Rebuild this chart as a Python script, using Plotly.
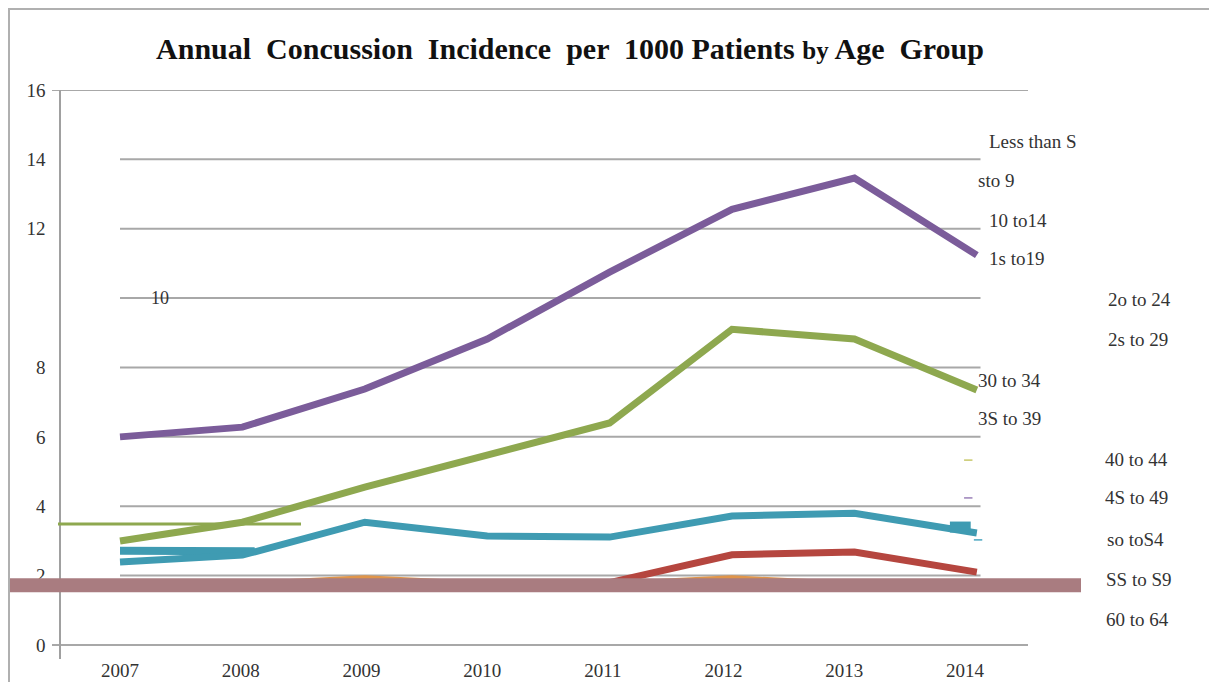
import plotly.graph_objects as go

years = [2007, 2008, 2009, 2010, 2011, 2012, 2013, 2014]

purple = [6.0, 6.28, 7.38, 8.82, 10.75, 12.56, 13.46, 11.24]
green = [3.0, 3.54, 4.55, 5.5, 6.4, 9.1, 8.82, 7.35]
teal = [2.39, 2.59, 3.54, 3.14, 3.11, 3.72, 3.8, 3.23]
red = [1.8, 1.8, 1.8, 1.8, 1.8, 2.6, 2.68, 2.1]
orange = [1.78, 1.78, 1.95, 1.78, 1.78, 1.95, 1.78, 1.78]

teal_stub_x = [2007, 2008.1]
teal_stub_y = [2.72, 2.7]
teal_block_x = [2013.78, 2013.95]
teal_block_y = [3.4, 3.4]

dash_x = [2013.93, 2013.93, 2014.01]
dash_y = [5.33, 4.24, 3.03]
dash_colors = ['#c8c86a', '#9a80b8', '#4aa6c0']

band_level = 1.72
green_rule_level = 3.49

ytick_vals = [0, 2, 4, 6, 8, 12, 14, 16]
grid_vals = [2, 4, 6, 8, 10, 12, 14]

labels = ['Less than S', 'sto 9', '10 to14', '1s to19', '2o to 24', '2s to 29',
          '30 to 34', '3S to 39', '40 to 44', '4S to 49', 'so toS4', 'SS to S9', '60 to 64']
label_px = [987, 976, 987, 987, 1106, 1106, 976, 976, 1103, 1103, 1105, 1104, 1104]
label_py = [141, 181, 220, 259, 299, 339, 380, 419, 459, 498, 539, 579, 619]

# page has an 8px body margin; screen pixel positions below are converted
OFF = 8
W, H = 1201, 674
L, R, T, B = 61 - OFF, 1028 - OFF, 90 - OFF, 659 - OFF


def px(x):
    return (x - OFF - L) / (R - L)


def py(y):
    return (B - (y - OFF)) / (B - T)


serif = 'Liberation Serif, Times New Roman, serif'
fig = go.Figure()

fig.add_trace(go.Scatter(x=years, y=orange, mode='lines', line=dict(color='#e0954a', width=4), showlegend=False))
fig.add_trace(go.Scatter(x=years, y=red, mode='lines', line=dict(color='#b5463f', width=7), showlegend=False))
fig.add_trace(go.Scatter(x=teal_stub_x, y=teal_stub_y, mode='lines', line=dict(color='#3f9bb2', width=8), showlegend=False))
fig.add_trace(go.Scatter(x=years, y=teal, mode='lines', line=dict(color='#3f9bb2', width=7), showlegend=False))
fig.add_trace(go.Scatter(x=teal_block_x, y=teal_block_y, mode='lines', line=dict(color='#3f9bb2', width=11), showlegend=False, cliponaxis=False))
fig.add_trace(go.Scatter(x=years, y=green, mode='lines', line=dict(color='#8ea84f', width=7), showlegend=False))
fig.add_trace(go.Scatter(x=years, y=purple, mode='lines', line=dict(color='#7b5c9a', width=7), showlegend=False))
fig.add_trace(go.Scatter(x=dash_x, y=dash_y, mode='markers', showlegend=False, cliponaxis=False,
                         marker=dict(symbol='line-ew', size=6, line=dict(width=1.5, color=dash_colors))))
fig.add_trace(go.Scatter(x=[], y=[], xaxis='x2', showlegend=False))

shapes = []
for g in grid_vals:
    shapes.append(dict(type='line', xref='x', yref='y', x0=2007, x1=2014.03, y0=g, y1=g,
                       line=dict(color='#a8a8a8', width=2), layer='below'))
for g in [0, 16]:
    shapes.append(dict(type='line', xref='paper', yref='y', x0=px(52), x1=1, y0=g, y1=g,
                       line=dict(color='#a8a8a8', width=2), layer='below'))
shapes.append(dict(type='line', xref='paper', yref='y', x0=px(8), x1=px(1081), y0=band_level, y1=band_level,
                   line=dict(color='#a97c80', width=14), layer='above'))
shapes.append(dict(type='line', xref='paper', yref='y', x0=px(58), x1=px(301), y0=green_rule_level, y1=green_rule_level,
                   line=dict(color='#8ea84f', width=3), layer='above'))
# frame
shapes.append(dict(type='line', xref='paper', yref='paper', x0=px(8), x1=px(1217), y0=py(9), y1=py(9),
                   line=dict(color='#b0b0b0', width=2)))
shapes.append(dict(type='line', xref='paper', yref='paper', x0=px(9), x1=px(9), y0=py(9), y1=py(690),
                   line=dict(color='#b0b0b0', width=2)))

annotations = [dict(text=t, xref='paper', yref='paper', x=px(a), y=py(b), xanchor='left', yanchor='middle',
                    showarrow=False, font=dict(family=serif, size=19, color='#333'))
               for t, a, b in zip(labels, label_px, label_py)]
annotations.append(dict(text='10', xref='paper', yref='y', x=px(160), y=10, xanchor='center', yanchor='middle',
                        showarrow=False, font=dict(family=serif, size=18, color='#333')))

fig.update_layout(
    width=W, height=H,
    margin=dict(l=L, r=W - R, t=T, b=H - B, autoexpand=False),
    paper_bgcolor='white', plot_bgcolor='white',
    title=dict(text='<b>Annual  Concussion  Incidence  per  1000 Patients <span style="font-size:25px">by</span> Age  Group</b>',
               x=(570 - OFF) / W, xref='container', xanchor='center', y=1 - (48 - OFF) / H, yanchor='middle',
               font=dict(family=serif, size=30, color='#111')),
    xaxis=dict(range=[2006.518, 2014.418], showgrid=False, zeroline=False, showticklabels=False,
               showline=False, automargin=False),
    xaxis2=dict(overlaying='x', anchor='y', side='bottom', range=[2006.511, 2014.522],
                tickvals=years, ticktext=[str(y) for y in years], showgrid=False, zeroline=False,
                showline=False, automargin=False, ticklabelstandoff=-2,
                tickfont=dict(family=serif, size=19, color='#333')),
    yaxis=dict(range=[-0.404, 16], tickvals=ytick_vals, showgrid=False, zeroline=False,
               showline=True, linecolor='#a0a0a0', linewidth=1.5, ticklabelstandoff=10, automargin=False,
               tickfont=dict(family=serif, size=19, color='#333')),
    shapes=shapes,
    annotations=annotations,
)

fig.write_html('out.html')
